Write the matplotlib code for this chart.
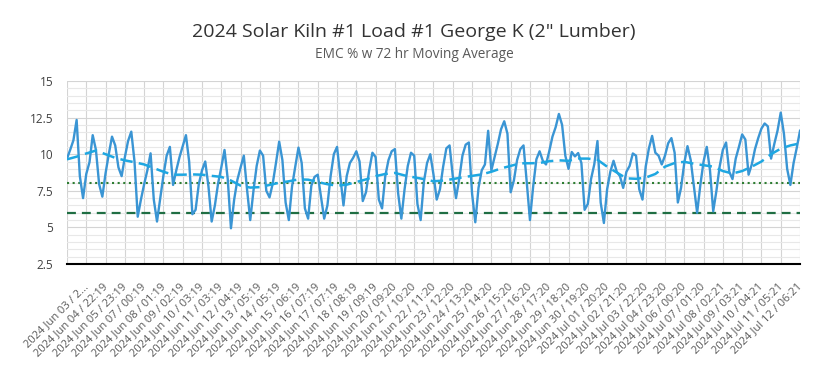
import numpy as np
import matplotlib.pyplot as plt
from matplotlib.ticker import MultipleLocator

plt.rcParams['font.family'] = ['Open Sans', 'DejaVu Sans']

# Rotulos do eixo x (um a cada 6 amostras)
tick_labels = [
    "2024 Jun 03 / 2...", "2024 Jun 04 / 22:19", "2024 Jun 05 / 23:19",
    "2024 Jun 07 / 00:19", "2024 Jun 08 / 01:19", "2024 Jun 09 / 02:19",
    "2024 Jun 10 / 03:19", "2024 Jun 11 / 03:19", "2024 Jun 12 / 04:19",
    "2024 Jun 13 / 05:19", "2024 Jun 14 / 05:19", "2024 Jun 15 / 06:19",
    "2024 Jun 16 / 07:19", "2024 Jun 17 / 07:19", "2024 Jun 18 / 08:19",
    "2024 Jun 19 / 09:19", "2024 Jun 20 / 09:20", "2024 Jun 21 / 10:20",
    "2024 Jun 22 / 11:20", "2024 Jun 23 / 12:20", "2024 Jun 24 / 13:20",
    "2024 Jun 25 / 14:20", "2024 Jun 26 / 15:20", "2024 Jun 27 / 16:20",
    "2024 Jun 28 / 17:20", "2024 Jun 29 / 18:20", "2024 Jun 30 / 19:20",
    "2024 Jul 01 / 20:20", "2024 Jul 02 / 21:20", "2024 Jul 03 / 22:20",
    "2024 Jul 04 / 23:20", "2024 Jul 06 / 00:20", "2024 Jul 07 / 01:20",
    "2024 Jul 08 / 02:21", "2024 Jul 09 / 03:21", "2024 Jul 10 / 04:21",
    "2024 Jul 11 / 05:21", "2024 Jul 12 / 06:21",
]

# EMC % (6 amostras por rotulo)
emc = [
    9.7, 10.3, 10.95, 12.34, 8.5, 7.0,
    8.65, 9.45, 11.3, 10.3, 7.95, 7.1,
    8.7, 10.0, 11.2, 10.6, 9.1, 8.5,
    9.8, 10.9, 11.54, 9.5, 5.73, 6.9,
    7.95, 8.9, 10.06, 6.9, 5.4, 7.0,
    8.55, 9.9, 10.5, 7.9, 8.9, 9.8,
    10.55, 11.3, 9.5, 5.9, 6.2, 7.95,
    8.9, 9.5, 7.8, 5.4, 6.5, 8.0,
    9.1, 10.29, 8.3, 4.94, 6.9, 8.25,
    9.1, 9.9, 7.6, 5.5, 7.5, 9.2,
    10.25, 9.9, 7.5, 7.05, 8.0, 9.4,
    10.86, 9.6, 6.7, 5.5, 7.8, 9.15,
    10.45, 9.4, 6.3, 5.6, 7.85, 8.45,
    8.6, 7.1, 5.6, 6.5, 8.5, 10.0,
    10.5, 8.5, 6.5, 8.5, 9.4, 9.75,
    10.2, 9.5, 6.8, 7.4, 8.9, 10.1,
    9.8, 6.9, 6.3, 8.5, 9.6, 10.2,
    10.35, 7.33, 5.6, 7.6, 9.2, 10.1,
    9.9, 6.6, 5.5, 8.1, 9.4, 10.0,
    8.6, 6.9, 7.6, 9.15, 10.4, 10.6,
    8.5, 7.0, 8.3, 9.9, 10.65, 10.8,
    7.3, 5.35, 7.7, 8.9, 9.3, 11.6,
    8.9, 9.8, 10.7, 11.7, 12.25, 11.4,
    7.4, 8.2, 9.6, 10.35, 10.6, 8.1,
    5.5, 7.8, 9.65, 10.2, 9.55, 9.3,
    10.2, 11.2, 11.85, 12.75, 12.0, 9.9,
    9.0, 10.15, 9.85, 10.08, 9.4, 6.2,
    6.6, 8.3, 9.3, 10.9, 6.7, 5.3,
    7.6, 8.8, 9.55, 8.8, 8.5, 7.7,
    8.8, 9.2, 10.05, 9.9, 7.6, 6.9,
    9.15, 10.4, 11.25, 10.1, 9.9, 9.3,
    9.9, 10.75, 11.1, 10.1, 6.7, 7.7,
    9.4, 10.55, 9.6, 7.8, 6.0, 7.9,
    9.5, 10.5, 8.9, 6.1, 7.5, 9.15,
    10.3, 10.8, 8.8, 8.3, 9.7, 10.5,
    11.35, 11.0, 8.6, 9.3, 10.35, 11.1,
    11.75, 12.1, 11.9, 9.7, 10.7, 11.6,
    12.84, 11.4, 9.0, 7.9, 9.4, 10.45,
    11.6,
]

# Media movel 72 h (a cada 3 amostras)
ma72 = [
    9.65, 9.83, 10.05, 10.25, 10.0, 9.75, 9.58, 9.45, 9.3, 9.05,
    8.8, 8.6, 8.6, 8.62, 8.6, 8.52, 8.45, 8.2, 7.85, 7.72,
    7.75, 7.9, 8.05, 8.15, 8.28, 8.26, 8.1, 7.95, 7.85, 7.92,
    8.1, 8.28, 8.5, 8.65, 8.72, 8.55, 8.42, 8.3, 8.15, 8.2,
    8.3, 8.42, 8.52, 8.62, 8.8, 9.03, 9.2, 9.38, 9.38, 9.4,
    9.52, 9.58, 9.55, 9.7, 9.7, 9.62, 9.15, 8.75, 8.35, 8.32,
    8.4, 8.65, 9.15, 9.4, 9.48, 9.35, 9.25, 9.15, 8.85, 8.68,
    8.85, 9.15, 9.5, 10.0, 10.38, 10.6, 10.74,
]

target_emc = 8.0
final_emc = 6.0

PER_LABEL = 6
MA_STEP = 3

x = np.arange(len(emc))
x_ma = np.arange(len(ma72)) * MA_STEP

fig = plt.figure(figsize=(8.28, 3.78), dpi=100)
ax = fig.add_axes([0.0809, 0.3016, 0.8853, 0.4841])

ax.axhline(final_emc, color='#1f6e43', lw=1.6, ls=(0, (4, 2.7)), zorder=2)
ax.axhline(target_emc, color='#2e7d32', lw=1.5, ls=(0, (1, 1.7)), zorder=2)
ax.plot(x, emc, color='#3a95d4', lw=1.7, zorder=3)
ax.plot(x_ma, ma72, color='#1ea7e1', lw=1.8, ls=(0, (5, 2.5)), zorder=4)

ax.set_xlim(0, len(emc) - 1)
ax.set_ylim(2.5, 15)
ax.yaxis.set_minor_locator(MultipleLocator(0.5))
ax.set_yticks(np.arange(2.5, 15.01, 2.5))
ax.set_yticklabels(['2.5', '5', '7.5', '10', '12.5', '15'])

ax.set_xticks(np.arange(0, len(emc), PER_LABEL))
ax.set_xticklabels([''] + tick_labels, rotation=45, ha='right', va='center',
                   rotation_mode='anchor', fontsize=8, color='#5a5a5a')

ax.grid(which='major', color='#d4d4d4', lw=0.8)
ax.grid(which='minor', axis='y', color='#e8e8e8', lw=0.8)
ax.set_axisbelow(True)

for side in ['left', 'right', 'top']:
    ax.spines[side].set_visible(False)
ax.spines['bottom'].set_color('black')
ax.spines['bottom'].set_linewidth(1.5)
ax.spines['bottom'].set_zorder(5)

ax.tick_params(axis='both', which='both', length=0)
ax.tick_params(axis='y', labelsize=8.5, labelcolor='#404040', pad=10)
ax.tick_params(axis='x', pad=15)

fig.text(0.5, 0.915, '2024 Solar Kiln #1 Load #1 George K (2" Lumber)',
         ha='center', va='center', fontsize=14, color='#333333')
fig.text(0.5, 0.855, 'EMC % w 72 hr Moving Average',
         ha='center', va='center', fontsize=9.8, color='#595959')

fig.savefig('out.png', dpi=100)
